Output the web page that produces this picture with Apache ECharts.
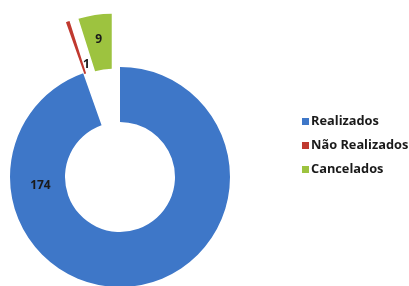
<!DOCTYPE html>
<html>
<head>
<meta charset="utf-8">
<script src="https://cdn.jsdelivr.net/npm/echarts@6/dist/echarts.min.js"></script>
<style>
  html, body { margin: 0; padding: 0; background: #fff; }
  #chart { width: 409px; height: 286px; }
</style>
</head>
<body>
<div id="chart"></div>
<script>
const categories = ['Realizados', 'Não Realizados', 'Cancelados']
const values = [174, 1, 9]
const colors = ['#3e77c8', '#c0392f', '#9dc33f']
const exploded = [false, true, true]

// donut geometry
const cx = 120
const cy = 177
const rIn = 55
const rOut = 110

// the big slice's label sits on the left side of the ring
const bigLabel = { angle: 264, dist: 80 }

const chart = echarts.init(document.getElementById('chart'))

chart.setOption({
  animation: false,
  legend: {
    orient: 'vertical',
    left: 297,
    top: 110,
    itemWidth: 7,
    itemHeight: 7,
    itemGap: 11,
    icon: 'rect',
    selectedMode: false,
    textStyle: {
      fontFamily: 'Open Sans',
      fontSize: 12.8,
      fontWeight: 'bold',
      color: '#1a1a1a',
      padding: [0, 0, 0, -3]
    },
    data: categories
  },
  series: [
    {
      type: 'pie',
      center: [cx, cy],
      radius: [rIn, rOut],
      startAngle: 90,
      clockwise: true,
      selectedMode: 'multiple',
      selectedOffset: 54,
      avoidLabelOverlap: false,
      emphasis: { disabled: true },
      label: {
        show: true,
        position: 'inside',
        formatter: '{c}',
        fontFamily: 'Open Sans',
        fontSize: 12,
        fontWeight: 'bold',
        color: '#1a1a1a'
      },
      labelLine: { show: false },
      labelLayout: function (params) {
        if (params.dataIndex !== 0) return {}
        const a = bigLabel.angle * Math.PI / 180
        return {
          x: cx + bigLabel.dist * Math.sin(a),
          y: cy - bigLabel.dist * Math.cos(a),
          align: 'center',
          verticalAlign: 'middle'
        }
      },
      data: categories.map((name, i) => {
        const item = {
          name: name,
          value: values[i],
          selected: exploded[i],
          itemStyle: { color: colors[i] }
        }
        // push the "1" label down toward the inner end of its thin slice
        if (i === 1) {
          item.label = {
            formatter: '\n\n{c}',
            lineHeight: 20,
            padding: [0, 0, 0, 22]
          }
        }
        return item
      })
    }
  ]
})
</script>
</body>
</html>
